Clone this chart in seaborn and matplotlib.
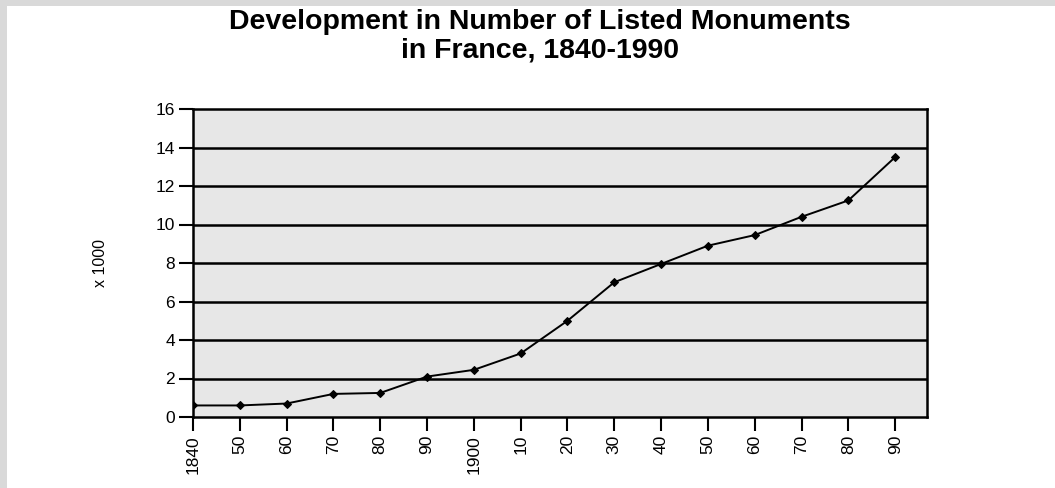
import matplotlib
matplotlib.use("Agg")
import matplotlib.pyplot as plt
import seaborn as sns
import pandas as pd
from matplotlib.patches import Rectangle

years = [1840, 1850, 1860, 1870, 1880, 1890, 1900, 1910, 1920, 1930,
         1940, 1950, 1960, 1970, 1980, 1990]
monuments = [0.6, 0.6, 0.7, 1.2, 1.25, 2.1, 2.45, 3.3, 5.0, 7.0,
             7.95, 8.9, 9.45, 10.4, 11.25, 13.5]
tick_labels = ["1840", "50", "60", "70", "80", "90", "1900", "10", "20",
               "30", "40", "50", "60", "70", "80", "90"]
y_ticks = [0, 2, 4, 6, 8, 10, 12, 14, 16]

df = pd.DataFrame({"year": years, "value": monuments})

sns.set_theme(style="white")
plt.rcParams["font.family"] = ["Liberation Sans", "DejaVu Sans"]
plt.rcParams["text.color"] = "black"
plt.rcParams["axes.labelcolor"] = "black"

fig = plt.figure(figsize=(10.55, 4.88), dpi=100)
fig.patch.set_facecolor("white")
# gray frame strips at top and left
fig.add_artist(Rectangle((0, 1 - 6 / 488), 1, 6 / 488, transform=fig.transFigure,
                         facecolor="#d9d9d9", edgecolor="none", zorder=0))
fig.add_artist(Rectangle((0, 0), 7 / 1055, 1, transform=fig.transFigure,
                         facecolor="#d9d9d9", edgecolor="none", zorder=0))

ax = fig.add_axes([193 / 1055, 1 - 417 / 488, (927 - 193) / 1055, (417 - 109) / 488])
ax.set_facecolor("#e7e7e7")

sns.lineplot(data=df, x="year", y="value", ax=ax, color="black", linewidth=1.4,
             marker="D", markersize=4, markeredgecolor="black", zorder=5)

ax.set_xlim(1840, 1996.8)
ax.set_ylim(0, 16)
ax.set_yticks(y_ticks)
ax.set_yticklabels([str(v) for v in y_ticks], fontsize=12.5)
ax.set_xticks(years)
ax.set_xticklabels(tick_labels, rotation=90, fontsize=12.5)

for v in y_ticks[1:-1]:
    ax.axhline(v, color="black", linewidth=1.8, zorder=2)

for s in ax.spines.values():
    s.set_visible(True)
    s.set_color("black")
    s.set_linewidth(1.8)

ax.tick_params(axis="both", which="major", direction="out", length=10, width=1.5,
               color="black", labelcolor="black", pad=3, left=True, bottom=True)

ax.set_xlabel("")
ax.set_ylabel("x 1000", fontsize=11.5, labelpad=34)

fig.text(540 / 1055, 1 - 22 / 488, "Development in Number of Listed Monuments",
         ha="center", va="center", fontsize=20.5, fontweight="bold", color="black")
fig.text(540 / 1055, 1 - 51 / 488, "in France, 1840-1990",
         ha="center", va="center", fontsize=20.5, fontweight="bold", color="black")

fig.savefig("out.png", dpi=100)
